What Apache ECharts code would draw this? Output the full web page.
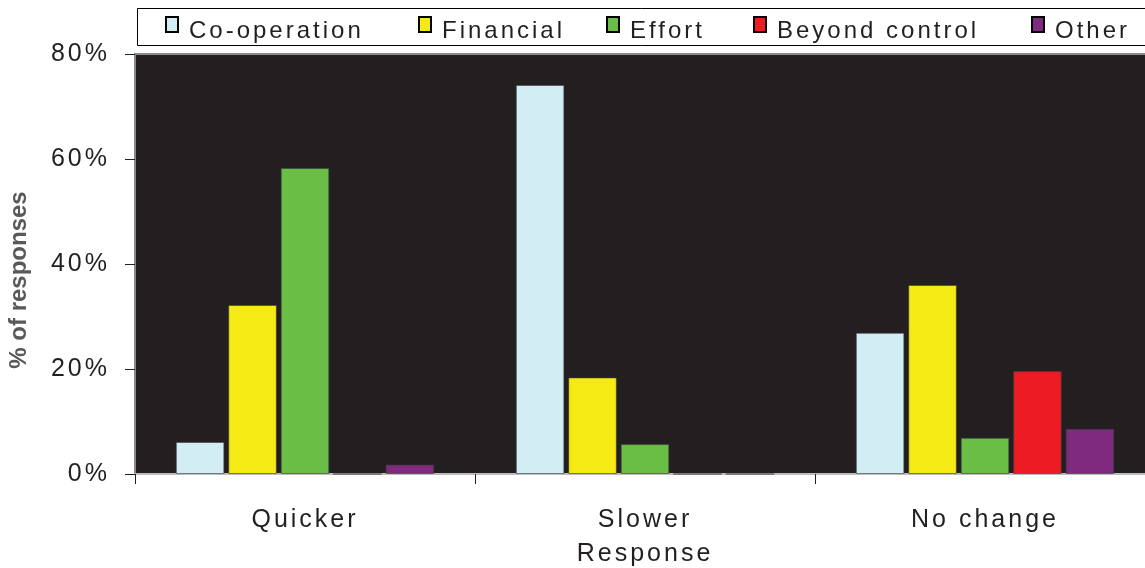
<!DOCTYPE html>
<html>
<head>
<meta charset="utf-8">
<script src="https://cdn.jsdelivr.net/npm/echarts@6/dist/echarts.min.js"></script>
<style>
  html, body { margin: 0; padding: 0; background: #ffffff; }
  #chart { width: 1145px; height: 568px; }
</style>
</head>
<body>
<div id="chart"></div>
<script>
// Letter-spaced text (the reference uses wide tracking on non-bold text)
(function () {
  var P = CanvasRenderingContext2D.prototype;
  var ft = P.fillText, mt = P.measureText, st = P.strokeText;
  function ls(ctx) {
    if ('letterSpacing' in ctx) ctx.letterSpacing = /bold/.test(ctx.font) ? '0px' : '3px';
  }
  P.fillText = function () { ls(this); return ft.apply(this, arguments); };
  P.strokeText = function () { ls(this); return st.apply(this, arguments); };
  P.measureText = function () { ls(this); return mt.apply(this, arguments); };
})();

const categories = ['Quicker', 'Slower', 'No change'];
const seriesNames = ['Co-operation', 'Financial', 'Effort', 'Beyond control', 'Other'];
const coOperation = [6.1, 74.1, 26.9];
const financial = [32.2, 18.4, 36.0];
const effort = [58.3, 5.7, 6.9];
const beyondControl = [0, 0, 19.6];
const other = [1.8, 0, 8.6];
const yTicks = [0, 20, 40, 60, 80];

const colors = ['#d3edf4', '#f5ea14', '#6abd45', '#ed1c24', '#7f2a7f'];
const values = [coOperation, financial, effort, beyondControl, other];
const legendLeft = [165, 418, 606, 753, 1031];

const chart = echarts.init(document.getElementById('chart'), null, { renderer: 'canvas' });
const textColor = '#231f20';
const font = 'Liberation Sans, Arial, sans-serif';

chart.setOption({
  animation: false,
  textStyle: { fontFamily: font },
  graphic: [{
    type: 'rect',
    z: 0,
    shape: { x: 137.5, y: 8.5, width: 1020, height: 37 },
    style: { fill: '#ffffff', stroke: '#000000', lineWidth: 1 }
  }],
  legend: seriesNames.map(function (name, i) {
    return {
      data: [name],
      left: legendLeft[i],
      top: 9,
      padding: 0,
      icon: 'rect',
      itemWidth: 12,
      itemHeight: 15,
      itemStyle: { borderColor: '#000000', borderWidth: 2 },
      formatter: function (n) { return '{s|}\n{t|' + n + '}'; },
      textStyle: {
        fontSize: 24, color: textColor, fontFamily: font,
        rich: {
          s: { height: 14, fontSize: 1 },
          t: { fontSize: 24, color: textColor, fontFamily: font, padding: [0, 0, 0, 6] }
        }
      }
    };
  }),
  grid: {
    left: 135,
    top: 54,
    width: 1020,
    bottom: 94,
    outerBoundsMode: 'none',
    containLabel: false,
    show: true,
    backgroundColor: '#231f20',
    borderColor: '#8a8a8a',
    borderWidth: 2
  },
  xAxis: {
    type: 'category',
    data: categories,
    name: 'Response',
    nameLocation: 'middle',
    nameGap: 66,
    nameTextStyle: { fontSize: 25, color: textColor, fontFamily: font },
    axisLine: { show: true, lineStyle: { color: '#bdbdbd', width: 2 } },
    axisTick: { show: true, length: 10, lineStyle: { color: '#231f20', width: 1 } },
    axisLabel: { fontSize: 25, color: textColor, margin: 32, fontFamily: font }
  },
  yAxis: {
    type: 'value',
    min: yTicks[0],
    max: yTicks[yTicks.length - 1],
    interval: 20,
    name: '% of responses',
    nameLocation: 'middle',
    nameGap: 104,
    nameRotate: 90,
    nameTextStyle: { fontSize: 24, color: '#595959', fontWeight: 'bold', fontFamily: font, padding: [0, 32, 0, 0] },
    axisLine: { show: false },
    axisTick: { show: true, length: 10, lineStyle: { color: '#231f20', width: 1 } },
    splitLine: { show: false },
    axisLabel: { fontSize: 25, color: textColor, margin: 25, formatter: '{value}%', fontFamily: font }
  },
  series: seriesNames.map(function (name, i) {
    return {
      name: name,
      type: 'bar',
      data: values[i],
      barGap: '8%',
      barCategoryGap: '24%',
      itemStyle: { color: colors[i], borderColor: 'rgba(60,60,60,0.6)', borderWidth: 1 }
    };
  })
});
</script>
</body>
</html>
